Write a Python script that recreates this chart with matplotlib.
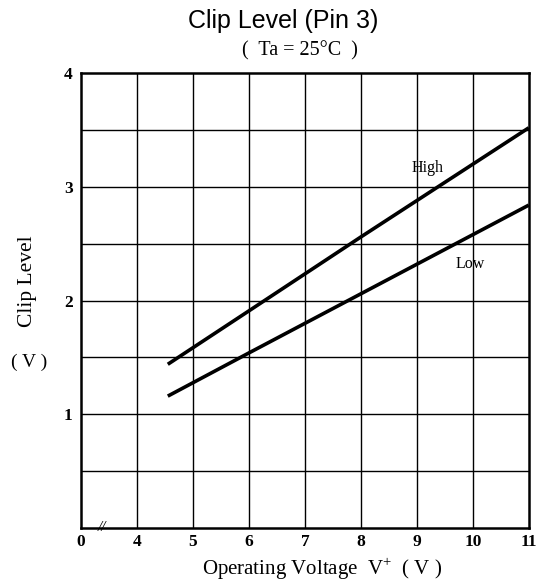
import matplotlib
matplotlib.use("Agg")
import matplotlib.pyplot as plt

# ── DATA ───────────────────────────────────────────────────
volt       = [4.55, 6.0, 8.0, 9.0, 11.0]
clip_high  = [1.44, 1.91, 2.56, 2.88, 3.52]
clip_low   = [1.16, 1.54, 2.06, 2.32, 2.84]
x_ticks    = [3, 4, 5, 6, 7, 8, 9, 10, 11]
x_labels   = ["0", "4", "5", "6", "7", "8", "9", "10", "11"]
y_ticks    = [1, 2, 3, 4]
y_labels   = ["1", "2", "3", "4"]

serif = "Liberation Serif"
plt.rcParams["mathtext.fontset"] = "custom"
plt.rcParams["mathtext.rm"] = serif

# ── CANVAS ─────────────────────────────────────────────────
fig = plt.figure(figsize=(5.44, 5.86), dpi=100)
ax  = fig.add_axes([0.149, 0.099, 0.823, 0.776])

ax.set_xlim(3, 11)
ax.set_ylim(0, 4)

# grid every 1 V on x and 0.5 V on y
for gx in range(4, 11):
    ax.axvline(gx, color="black", linewidth=1.0, zorder=1)
for gy in [0.5, 1, 1.5, 2, 2.5, 3, 3.5]:
    ax.axhline(gy, color="black", linewidth=1.0, zorder=1)

# ── CURVES ─────────────────────────────────────────────────
ax.plot(volt, clip_high, color="black", linewidth=2.6, solid_capstyle="butt", zorder=3)
ax.plot(volt, clip_low,  color="black", linewidth=2.6, solid_capstyle="butt", zorder=3)
ax.text(9.2, 3.17, "High", family=serif, fontsize=11.5, ha="center", va="center")
ax.text(9.95, 2.32, "Low", family=serif, fontsize=11.5, ha="center", va="center")

# ── AXES ───────────────────────────────────────────────────
for s in ax.spines.values():
    s.set_linewidth(1.8)
ax.set_xticks(x_ticks)
ax.set_xticklabels(x_labels, family=serif, fontweight="bold", fontsize=12.5)
ax.set_yticks(y_ticks)
ax.set_yticklabels(y_labels, family=serif, fontweight="bold", fontsize=12.5)
ax.tick_params(length=0)
ax.tick_params(axis="x", pad=4)
ax.tick_params(axis="y", pad=6)

# axis break mark
ax.text(3.37, 0.0, "//", fontsize=11, ha="center", va="center", style="italic",
        family=serif, clip_on=False, zorder=4)

fig.text(0.592, 0.029, "Operating Voltage  V$^{+}$  ( V )", family=serif, fontsize=15,
         ha="center", va="center")
fig.text(0.050, 0.520, "Clip Level", family=serif, fontsize=15.5, rotation=90,
         ha="center", va="center")
fig.text(0.053, 0.382, "( V )", family=serif, fontsize=14, ha="center", va="center")

fig.text(0.520, 0.964, "Clip Level (Pin 3)", family="Liberation Sans", fontsize=18,
         ha="center", va="center")
fig.text(0.551, 0.913, "(  Ta = 25°C  )", family=serif, fontsize=14.5, ha="center", va="center")

plt.savefig("out.png", dpi=100)
